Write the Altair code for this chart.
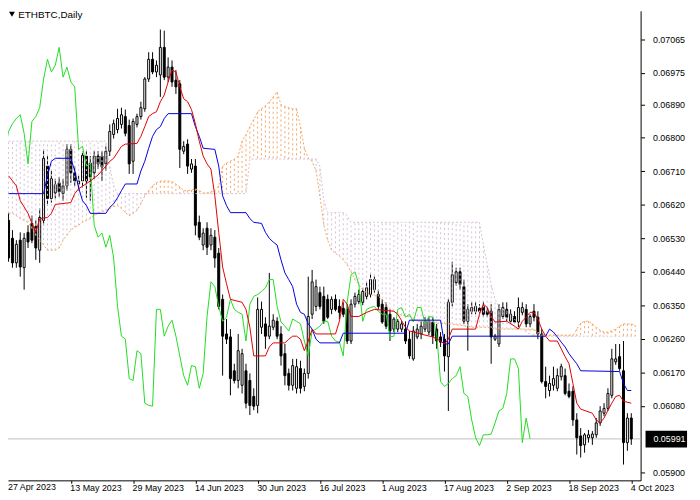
import altair as alt
import pandas as pd

# ---------------- data ----------------
symbol_title = "ETHBTC,Daily"
last_price = 0.05991
chikou_shift = 26

x_tick_labels = ["27 Apr 2023", "13 May 2023", "29 May 2023", "14 Jun 2023", "30 Jun 2023",
                 "16 Jul 2023", "1 Aug 2023", "17 Aug 2023", "2 Sep 2023", "18 Sep 2023", "4 Oct 2023"]
y_tick_values = [0.07065, 0.06975, 0.06890, 0.06800, 0.06710, 0.06620, 0.06530,
                 0.06440, 0.06350, 0.06260, 0.06170, 0.06080, 0.05900]

open_ = [0.06578,0.06530,0.06464,0.06525,0.06451,0.06546,0.06570,0.06562,0.06498,0.06578,
         0.06724,0.06637,0.06652,0.06679,0.06650,0.06671,0.06769,0.06706,0.06676,0.06684,
         0.06751,0.06732,0.06706,0.06751,0.06751,0.06730,0.06764,0.06809,0.06822,0.06836,
         0.06857,0.06833,0.06737,0.06836,0.06857,0.06878,0.06958,0.07011,0.06977,0.06969,
         0.07043,0.06963,0.06990,0.06955,0.06945,0.06764,0.06783,0.06716,0.06724,0.06573,
         0.06512,0.06557,0.06512,0.06533,0.06490,0.06366,0.06273,0.06265,0.06174,0.06148,
         0.06135,0.06174,0.06148,0.06105,0.06081,0.06291,0.06300,0.06267,0.06291,0.06307,
         0.06273,0.06220,0.06167,0.06135,0.06127,0.06180,0.06132,0.06167,0.06326,0.06347,
         0.06384,0.06374,0.06366,0.06339,0.06366,0.06347,0.06342,0.06339,0.06254,0.06353,
         0.06360,0.06358,0.06374,0.06379,0.06392,0.06379,0.06353,0.06344,0.06326,0.06286,
         0.06286,0.06286,0.06286,0.06259,0.06206,0.06265,0.06273,0.06286,0.06278,0.06305,
         0.06286,0.06265,0.06259,0.06212,0.06358,0.06411,0.06440,0.06400,0.06307,0.06334,
         0.06334,0.06342,0.06347,0.06334,0.06334,0.06259,0.06246,0.06320,0.06339,0.06307,
         0.06320,0.06305,0.06331,0.06339,0.06300,0.06334,0.06318,0.06273,0.06145,0.06121,
         0.06135,0.06127,0.06158,0.06161,0.06119,0.06119,0.06042,0.05999,0.05975,0.05994,
         0.05994,0.06002,0.06034,0.06060,0.06073,0.06108,0.06198,0.06212,0.06174,0.05981,
         0.06047]
high_ = [0.06599,0.06552,0.06525,0.06546,0.06544,0.06565,0.06591,0.06578,0.06610,0.06769,
         0.06751,0.06711,0.06690,0.06695,0.06690,0.06783,0.06783,0.06724,0.06698,0.06764,
         0.06764,0.06751,0.06764,0.06764,0.06764,0.06777,0.06836,0.06849,0.06878,0.06881,
         0.06876,0.06849,0.06852,0.06865,0.06897,0.06963,0.07030,0.07030,0.07008,0.07091,
         0.07088,0.07016,0.07008,0.06982,0.06955,0.06791,0.06796,0.06743,0.06743,0.06591,
         0.06557,0.06573,0.06557,0.06552,0.06504,0.06379,0.06313,0.06286,0.06193,0.06273,
         0.06233,0.06193,0.06167,0.06127,0.06371,0.06360,0.06318,0.06437,0.06326,0.06318,
         0.06294,0.06246,0.06180,0.06206,0.06206,0.06201,0.06180,0.06427,0.06445,0.06419,
         0.06400,0.06400,0.06379,0.06374,0.06379,0.06366,0.06358,0.06353,0.06366,0.06384,
         0.06392,0.06397,0.06411,0.06437,0.06427,0.06392,0.06366,0.06358,0.06339,0.06318,
         0.06313,0.06307,0.06307,0.06281,0.06294,0.06300,0.06307,0.06318,0.06318,0.06318,
         0.06300,0.06278,0.06273,0.06366,0.06467,0.06451,0.06451,0.06419,0.06353,0.06358,
         0.06358,0.06353,0.06360,0.06344,0.06353,0.06273,0.06353,0.06358,0.06358,0.06339,
         0.06334,0.06371,0.06358,0.06353,0.06326,0.06353,0.06334,0.06286,0.06185,0.06161,
         0.06185,0.06180,0.06193,0.06180,0.06140,0.06132,0.06060,0.06020,0.06007,0.06015,
         0.06012,0.06047,0.06079,0.06087,0.06127,0.06233,0.06246,0.06246,0.06254,0.06060,
         0.06060]
low_ = [0.06467,0.06451,0.06451,0.06427,0.06392,0.06504,0.06517,0.06472,0.06464,0.06565,
        0.06618,0.06626,0.06637,0.06642,0.06631,0.06658,0.06679,0.06671,0.06658,0.06666,
        0.06639,0.06631,0.06690,0.06716,0.06684,0.06711,0.06751,0.06798,0.06812,0.06825,
        0.06804,0.06703,0.06703,0.06828,0.06849,0.06870,0.06950,0.06971,0.06963,0.06910,
        0.06955,0.06950,0.06937,0.06918,0.06719,0.06756,0.06703,0.06706,0.06538,0.06525,
        0.06498,0.06485,0.06498,0.06451,0.06339,0.06161,0.06246,0.06108,0.06140,0.06127,
        0.06113,0.06073,0.06055,0.06068,0.06060,0.06273,0.06233,0.06259,0.06283,0.06259,
        0.06188,0.06135,0.06121,0.06121,0.06113,0.06113,0.06119,0.06153,0.06313,0.06334,
        0.06339,0.06300,0.06313,0.06326,0.06334,0.06313,0.06318,0.06246,0.06246,0.06344,
        0.06353,0.06350,0.06366,0.06371,0.06384,0.06339,0.06300,0.06286,0.06254,0.06278,
        0.06278,0.06278,0.06246,0.06206,0.06201,0.06259,0.06259,0.06278,0.06270,0.06246,
        0.06233,0.06238,0.06172,0.06066,0.06347,0.06403,0.06392,0.06300,0.06228,0.06326,
        0.06326,0.06328,0.06318,0.06318,0.06193,0.06254,0.06238,0.06313,0.06307,0.06300,
        0.06300,0.06291,0.06323,0.06291,0.06291,0.06307,0.06259,0.06140,0.06100,0.06105,
        0.06121,0.06119,0.06148,0.06108,0.06100,0.06026,0.05949,0.05941,0.05954,0.05981,
        0.05975,0.05994,0.06026,0.06052,0.06066,0.06100,0.06190,0.06174,0.05922,0.05959,
        0.05975]
close_ = [0.06477,0.06464,0.06514,0.06453,0.06530,0.06520,0.06525,0.06504,0.06586,0.06745,
          0.06637,0.06690,0.06674,0.06655,0.06671,0.06769,0.06706,0.06684,0.06684,0.06753,
          0.06684,0.06695,0.06751,0.06730,0.06722,0.06764,0.06817,0.06838,0.06852,0.06862,
          0.06812,0.06730,0.06844,0.06857,0.06881,0.06958,0.07011,0.06977,0.06995,0.07043,
          0.06963,0.06990,0.06950,0.06937,0.06769,0.06777,0.06724,0.06730,0.06565,0.06533,
          0.06544,0.06506,0.06538,0.06477,0.06347,0.06267,0.06259,0.06153,0.06148,0.06228,
          0.06220,0.06087,0.06081,0.06079,0.06339,0.06339,0.06267,0.06294,0.06310,0.06267,
          0.06214,0.06161,0.06135,0.06188,0.06185,0.06127,0.06167,0.06320,0.06413,0.06400,
          0.06347,0.06307,0.06318,0.06366,0.06339,0.06331,0.06326,0.06254,0.06353,0.06374,
          0.06379,0.06387,0.06397,0.06419,0.06419,0.06347,0.06305,0.06294,0.06281,0.06313,
          0.06307,0.06300,0.06254,0.06214,0.06281,0.06286,0.06294,0.06307,0.06307,0.06267,
          0.06254,0.06251,0.06214,0.06358,0.06432,0.06440,0.06406,0.06307,0.06339,0.06344,
          0.06347,0.06334,0.06326,0.06326,0.06265,0.06267,0.06339,0.06344,0.06318,0.06326,
          0.06305,0.06344,0.06344,0.06300,0.06320,0.06318,0.06273,0.06145,0.06132,0.06140,
          0.06153,0.06161,0.06185,0.06113,0.06105,0.06042,0.05994,0.05973,0.06002,0.06002,
          0.06004,0.06034,0.06066,0.06073,0.06113,0.06206,0.06206,0.06180,0.05981,0.06047,
          0.05991]

# Ichimoku lines (vertices at bar indices)
tenkan_bar = [0,2,3,5,6,7,8,10,11,12,16,17,18,21,23,25,26,27,29,30,
              33,34,35,36,37,38,39,40,41,42,43,44,45,46,47,48,49,50,51,52,
              53,54,55,56,57,60,61,62,63,66,67,68,71,72,73,74,75,76,77,78,
              79,84,85,86,87,88,90,92,94,99,100,102,103,107,109,111,112,113,114,120,
              121,122,123,124,125,128,130,131,132,133,134,135,136,137,138,139,141,142,143,144,
              145,146,147,150,151,152,153,154,155,156,157,158,160]
tenkan_val = [0.06698,0.06671,0.06631,0.06597,0.06570,0.06546,0.06583,0.06586,0.06597,0.06621,
              0.06626,0.06650,0.06663,0.06684,0.06700,0.06724,0.06737,0.06745,0.06777,0.06783,
              0.06785,0.06804,0.06830,0.06857,0.06865,0.06870,0.06897,0.06915,0.06950,0.06982,
              0.06977,0.06937,0.06905,0.06897,0.06876,0.06838,0.06791,0.06751,0.06730,0.06716,
              0.06644,0.06546,0.06453,0.06408,0.06366,0.06358,0.06339,0.06291,0.06214,0.06214,
              0.06238,0.06249,0.06249,0.06259,0.06267,0.06267,0.06259,0.06228,0.06254,0.06286,
              0.06273,0.06273,0.06307,0.06366,0.06353,0.06320,0.06320,0.06331,0.06339,0.06334,
              0.06326,0.06291,0.06281,0.06270,0.06265,0.06254,0.06246,0.06259,0.06286,0.06286,
              0.06326,0.06353,0.06344,0.06320,0.06305,0.06307,0.06294,0.06286,0.06307,0.06318,
              0.06331,0.06331,0.06313,0.06286,0.06267,0.06254,0.06254,0.06233,0.06212,0.06193,
              0.06140,0.06087,0.06071,0.06060,0.06042,0.06034,0.06047,0.06068,0.06087,0.06105,
              0.06108,0.06092,0.06087]
kijun_bar = [0,9,10,11,12,16,17,18,19,20,21,25,26,27,28,29,30,33,34,35,
             36,37,38,39,40,41,47,48,49,50,53,54,55,56,57,61,62,63,65,66,
             67,68,69,70,71,72,73,74,75,76,77,78,79,80,85,86,102,103,111,112,
             113,114,138,139,140,141,142,143,144,145,146,147,157,158,159,160]
kijun_val = [0.06650,0.06650,0.06698,0.06737,0.06745,0.06745,0.06711,0.06666,0.06631,0.06618,
             0.06597,0.06597,0.06613,0.06623,0.06639,0.06658,0.06676,0.06676,0.06711,0.06737,
             0.06772,0.06804,0.06822,0.06830,0.06852,0.06865,0.06865,0.06830,0.06804,0.06772,
             0.06769,0.06724,0.06644,0.06618,0.06599,0.06599,0.06583,0.06573,0.06570,0.06546,
             0.06530,0.06520,0.06512,0.06472,0.06437,0.06419,0.06400,0.06353,0.06331,0.06326,
             0.06300,0.06286,0.06259,0.06249,0.06249,0.06275,0.06275,0.06310,0.06310,0.06246,
             0.06246,0.06267,0.06267,0.06286,0.06278,0.06265,0.06251,0.06238,0.06220,0.06206,
             0.06193,0.06174,0.06172,0.06140,0.06121,0.06121]
span_a = [0.06597,0.06597,0.06591,0.06583,0.06578,0.06573,0.06557,0.06538,0.06525,0.06512,
          0.06498,0.06498,0.06498,0.06504,0.06525,0.06538,0.06552,0.06560,0.06565,0.06573,
          0.06578,0.06583,0.06591,0.06597,0.06602,0.06605,0.06610,0.06615,0.06618,0.06610,
          0.06599,0.06591,0.06597,0.06605,0.06623,0.06644,0.06658,0.06671,0.06679,0.06684,
          0.06684,0.06684,0.06682,0.06676,0.06668,0.06658,0.06658,0.06660,0.06663,0.06658,
          0.06652,0.06652,0.06655,0.06658,0.06671,0.06724,0.06732,0.06737,0.06743,0.06751,
          0.06791,0.06809,0.06830,0.06849,0.06870,0.06878,0.06886,0.06897,0.06910,0.06923,
          0.06889,0.06884,0.06881,0.06878,0.06878,0.06830,0.06772,0.06745,0.06737,0.06711,
          0.06644,0.06565,0.06525,0.06498,0.06490,0.06482,0.06472,0.06459,0.06440,0.06419,
          0.06406,0.06392,0.06384,0.06379,0.06376,0.06374,0.06366,0.06353,0.06339,0.06334,
          0.06328,0.06323,0.06323,0.06318,0.06313,0.06307,0.06307,0.06307,0.06305,0.06305,
          0.06302,0.06302,0.06300,0.06300,0.06300,0.06297,0.06297,0.06294,0.06294,0.06291,
          0.06291,0.06291,0.06291,0.06291,0.06289,0.06286,0.06286,0.06286,0.06286,0.06286,
          0.06286,0.06286,0.06286,0.06286,0.06286,0.06286,0.06278,0.06270,0.06270,0.06270,
          0.06270,0.06270,0.06270,0.06270,0.06270,0.06270,0.06286,0.06302,0.06307,0.06307,
          0.06300,0.06291,0.06283,0.06278,0.06278,0.06281,0.06286,0.06294,0.06300,0.06300,
          0.06300,0.06297]
span_b = [0.06791,0.06791,0.06791,0.06791,0.06791,0.06791,0.06791,0.06791,0.06791,0.06791,
          0.06791,0.06791,0.06791,0.06791,0.06791,0.06791,0.06791,0.06791,0.06791,0.06791,
          0.06791,0.06791,0.06791,0.06791,0.06791,0.06791,0.06724,0.06671,0.06650,0.06650,
          0.06650,0.06650,0.06650,0.06650,0.06650,0.06650,0.06650,0.06650,0.06650,0.06650,
          0.06650,0.06650,0.06650,0.06650,0.06650,0.06650,0.06650,0.06650,0.06650,0.06650,
          0.06650,0.06650,0.06650,0.06650,0.06650,0.06650,0.06650,0.06650,0.06650,0.06650,
          0.06650,0.06650,0.06743,0.06743,0.06743,0.06743,0.06743,0.06743,0.06743,0.06743,
          0.06743,0.06743,0.06743,0.06743,0.06743,0.06743,0.06743,0.06743,0.06743,0.06743,
          0.06724,0.06631,0.06599,0.06599,0.06599,0.06599,0.06599,0.06591,0.06573,0.06573,
          0.06573,0.06573,0.06573,0.06573,0.06573,0.06573,0.06573,0.06573,0.06573,0.06573,
          0.06573,0.06573,0.06573,0.06573,0.06573,0.06573,0.06573,0.06573,0.06573,0.06573,
          0.06573,0.06573,0.06573,0.06573,0.06573,0.06573,0.06573,0.06573,0.06573,0.06573,
          0.06573,0.06573,0.06512,0.06459,0.06406,0.06366,0.06347,0.06339,0.06334,0.06326,
          0.06313,0.06300,0.06286,0.06278,0.06273,0.06267,0.06267,0.06267,0.06267,0.06267,
          0.06267,0.06267,0.06267,0.06267,0.06267,0.06267,0.06267,0.06267,0.06267,0.06267,
          0.06267,0.06267,0.06267,0.06267,0.06267,0.06267,0.06267,0.06267,0.06267,0.06267,
          0.06267,0.06267]

# ---------------- tables ----------------
candles = pd.DataFrame({"bar": list(range(len(open_))), "open": open_, "high": high_,
                        "low": low_, "close": close_})
candles["bull"] = candles["close"] >= candles["open"]
cloud = pd.DataFrame({"bar": list(range(len(span_a))), "a": span_a, "b": span_b})
cloud["up"] = cloud["a"] >= cloud["b"]
chikou = pd.DataFrame({"bar": candles["bar"] - chikou_shift, "v": candles["close"]})
tenkan = pd.DataFrame({"bar": tenkan_bar, "v": tenkan_val})
kijun = pd.DataFrame({"bar": kijun_bar, "v": kijun_val})

W, H = 640, 475
x_dom = [1.125, 161.125]
y_dom = [0.058796, 0.071412]
px = (y_dom[1] - y_dom[0]) / H
last = pd.DataFrame({"p": [last_price], "hi": [last_price + 8.3 * px],
                     "lo": [last_price - 8.7 * px]})
title_df = pd.DataFrame({"t": [symbol_title]})
first_lbl = pd.DataFrame({"t": [x_tick_labels[0]]})

FONT = "Liberation Sans"
xs = alt.Scale(domain=x_dom, nice=False, zero=False)
ys = alt.Scale(domain=y_dom, nice=False, zero=False)
label_arr = "[" + ",".join("'%s'" % s for s in x_tick_labels) + "]"
x_axis = alt.Axis(values=[16 * k for k in range(1, 11)],
                  labelExpr=label_arr + "[round(datum.value/16)]",
                  orient="bottom", labelAlign="left", labelBaseline="top",
                  labelOffset=-1, labelPadding=0, tickSize=3, title=None, grid=False,
                  labelFlush=False, labelOverlap=False, domainColor="black",
                  tickColor="black", labelColor="black", labelFont=FONT, labelFontSize=9)
y_axis = alt.Axis(values=y_tick_values, format=".5f", orient="right", tickSize=4,
                  labelPadding=8, title=None, grid=False, labelOverlap=False,
                  domainColor="black", tickColor="black", labelColor="black",
                  labelFont=FONT, labelFontSize=9)
X = alt.X("bar:Q", scale=xs, axis=x_axis)


def Y(f):
    return alt.Y(f + ":Q", scale=ys, axis=y_axis)


price_line = alt.Chart(last).mark_rule(color="#c0c0c0", strokeWidth=1).encode(y=Y("p"))
wicks = alt.Chart(candles).mark_rule(color="black", strokeWidth=1, clip=True).encode(
    x=X, y=Y("low"), y2="high")
bodies = alt.Chart(candles).mark_bar(size=2, stroke="black", strokeWidth=1, clip=True).encode(
    x=X, y=Y("open"), y2="close",
    fill=alt.condition("datum.bull", alt.value("white"), alt.value("black")))
hatch = alt.Chart(cloud).mark_rule(strokeDash=[2, 3], strokeWidth=1, clip=True).encode(
    x=X, y=Y("a"), y2="b",
    color=alt.condition("datum.up", alt.value("#F4A460"), alt.value("#D8BFD8")))
line_a = alt.Chart(cloud).mark_line(color="#F4A460", strokeDash=[2, 2], strokeWidth=1,
                                    clip=True).encode(x=X, y=Y("a"))
line_b = alt.Chart(cloud).mark_line(color="#D8BFD8", strokeDash=[2, 2], strokeWidth=1,
                                    clip=True).encode(x=X, y=Y("b"))
chikou_l = alt.Chart(chikou).mark_line(color="#22dd22", strokeWidth=1, clip=True).encode(
    x=X, y=Y("v"))
kijun_l = alt.Chart(kijun).mark_line(color="#0000dd", strokeWidth=1, clip=True).encode(
    x=X, y=Y("v"))
tenkan_l = alt.Chart(tenkan).mark_line(color="#e00000", strokeWidth=1, clip=True).encode(
    x=X, y=Y("v"))
box = alt.Chart(last).mark_rect(color="black").encode(
    x=alt.value(645), x2=alt.value(687), y=Y("hi"), y2="lo")
box_txt = alt.Chart(last).mark_text(align="left", baseline="middle", color="white",
                                    font=FONT, fontSize=9).encode(
    x=alt.value(653), y=Y("p"), text=alt.Text("p:Q", format=".5f"))
title_t = alt.Chart(title_df).mark_text(align="left", baseline="alphabetic", color="black",
                                        font=FONT, fontSize=10).encode(
    x=alt.value(10.3), y=alt.value(7.7), text="t:N")
tri = alt.Chart(title_df).mark_point(shape="triangle-down", filled=True, color="black",
                                     size=36, opacity=1).encode(x=alt.value(4), y=alt.value(3.5))
lbl0 = alt.Chart(first_lbl).mark_text(align="left", baseline="top", color="black",
                                      font=FONT, fontSize=9).encode(
    x=alt.value(0), y=alt.value(H + 3), text="t:N")

chart = alt.layer(price_line, wicks, bodies, hatch, line_a, line_b, chikou_l, kijun_l,
                  tenkan_l, box, box_txt, title_t, tri, lbl0).properties(
    width=W, height=H,
    padding={"left": 0, "top": 0, "right": 52, "bottom": 17},
    autosize=alt.AutoSizeParams(type="none"),
).configure_view(strokeWidth=0)

chart.save("out.html", embed_options={"renderer": "svg", "actions": False})
